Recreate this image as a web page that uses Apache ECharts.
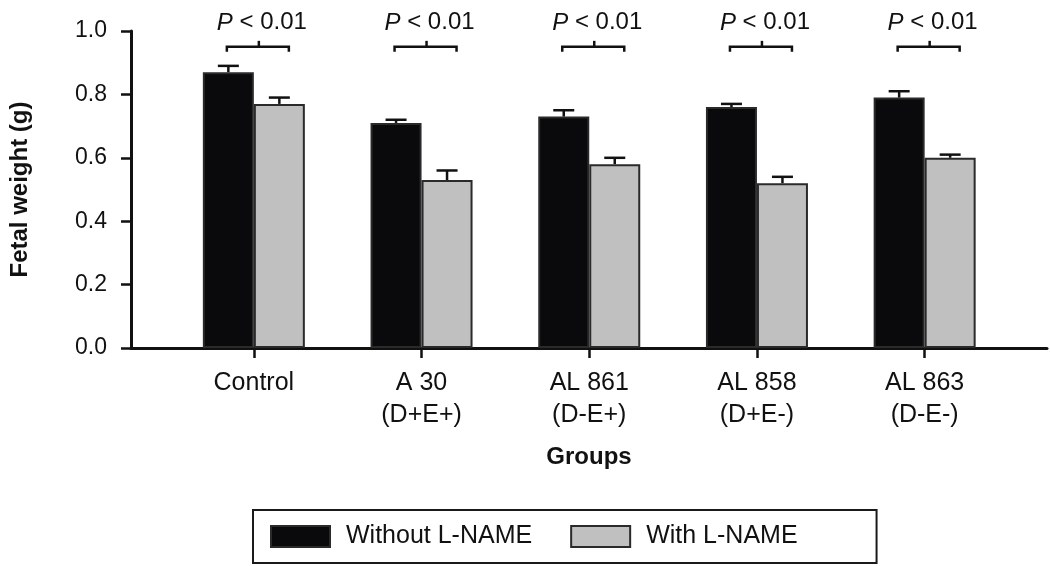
<!DOCTYPE html>
<html>
<head>
<meta charset="utf-8">
<script src="https://cdn.jsdelivr.net/npm/echarts@6/dist/echarts.min.js"></script>
<style>
html,body{margin:0;padding:0;background:#fff;}
#chart{width:1050px;height:566px;}
</style>
</head>
<body>
<div id="chart"></div>
<script>
// ---- data ----
const categories = ['Control', 'A 30\n(D+E+)', 'AL 861\n(D-E+)', 'AL 858\n(D+E-)', 'AL 863\n(D-E-)'];
const withoutLName = [0.87, 0.71, 0.73, 0.76, 0.79];
const withoutErr   = [0.02, 0.01, 0.02, 0.01, 0.02];
const withLName    = [0.77, 0.53, 0.58, 0.52, 0.60];
const withErr      = [0.02, 0.03, 0.02, 0.02, 0.01];
const pLabels      = ['P < 0.01', 'P < 0.01', 'P < 0.01', 'P < 0.01', 'P < 0.01'];
const yTicks       = [0, 0.2, 0.4, 0.6, 0.8, 1.0];
const bracketLevel = 0.95;

// ---- style ----
const FONT = '"Liberation Sans", Arial, Helvetica, sans-serif';
const BAR_W = 51;
const INK = '#111';

const chart = echarts.init(document.getElementById('chart'), null, {renderer: 'canvas'});

function errSeries(name, vals, errs, side) {
  return {
    type: 'custom', name: name + '_err', xAxisIndex: 1, yAxisIndex: 1, z: 5,
    silent: true,
    data: vals.map((v, i) => [i, v, errs[i]]),
    renderItem: function (params, api) {
      const i = api.value(0), v = api.value(1), e = api.value(2);
      const base = api.coord([i, v]);
      const top = api.coord([i, v + e]);
      const x = base[0] + side * BAR_W / 2;
      return {
        type: 'group',
        children: [
          {type: 'line', shape: {x1: x, y1: base[1], x2: x, y2: top[1]}, style: {stroke: INK, lineWidth: 2.5}},
          {type: 'line', shape: {x1: x - 10.5, y1: top[1], x2: x + 10.5, y2: top[1]}, style: {stroke: INK, lineWidth: 2.5}}
        ]
      };
    }
  };
}

const option = {
  animation: false,
  backgroundColor: '#fff',
  textStyle: {fontFamily: FONT},
  grid: [
    {left: 128, right: 3, top: 31, bottom: 218},
    {left: 170, right: 41.5, top: 31, bottom: 218}
  ],
  xAxis: [
    {
      type: 'value', gridIndex: 0, min: 0, max: 1,
      axisLine: {show: true, onZero: false, lineStyle: {color: INK, width: 3}},
      axisTick: {show: false}, axisLabel: {show: false}, splitLine: {show: false},
      name: 'Groups', nameLocation: 'middle', nameGap: 97,
      nameTextStyle: {fontFamily: FONT, fontSize: 24, fontWeight: 'bold', color: INK}
    },
    {
      type: 'category', gridIndex: 1, data: categories,
      axisLine: {show: false},
      axisTick: {show: true, alignWithLabel: true, length: 10, lineStyle: {color: INK, width: 2.5}},
      axisLabel: {fontFamily: FONT, fontSize: 25, color: INK, lineHeight: 32, margin: 19, interval: 0},
      splitLine: {show: false}
    }
  ],
  yAxis: [
    {
      type: 'value', gridIndex: 0, min: 0, max: 1, interval: 0.2,
      axisLine: {show: true, lineStyle: {color: INK, width: 3}},
      axisTick: {show: true, length: 10, lineStyle: {color: INK, width: 2.5}},
      axisLabel: {fontFamily: FONT, fontSize: 23, color: INK, margin: 24,
        formatter: v => yTicks.some(t => Math.abs(t - v) < 1e-9) ? v.toFixed(1) : ''},
      splitLine: {show: false},
      name: 'Fetal weight (g)', nameLocation: 'middle', nameGap: 99, nameRotate: 90,
      nameTextStyle: {fontFamily: FONT, fontSize: 24, fontWeight: 'bold', color: INK}
    },
    {type: 'value', gridIndex: 1, min: 0, max: 1, show: false}
  ],
  legend: {
    left: 253, top: 510,
    orient: 'horizontal',
    data: ['Without L-NAME', 'With L-NAME'],
    icon: 'rect', itemWidth: 59, itemHeight: 21, itemGap: 38,
    padding: [14, 79, 14, 17],
    borderColor: '#1a1a1a', borderWidth: 2,
    textStyle: {fontFamily: FONT, fontSize: 25, color: INK, padding: [0, 0, 0, 11]}
  },
  series: [
    {
      name: 'Without L-NAME', type: 'bar', xAxisIndex: 1, yAxisIndex: 1,
      data: withoutLName, barWidth: BAR_W, barGap: '0%',
      itemStyle: {color: '#0a0a0c', borderColor: '#2a2a2a', borderWidth: 2}
    },
    {
      name: 'With L-NAME', type: 'bar', xAxisIndex: 1, yAxisIndex: 1,
      data: withLName, barWidth: BAR_W, barGap: '0%',
      itemStyle: {color: '#c0c0c0', borderColor: '#2a2a2a', borderWidth: 2}
    },
    errSeries('Without L-NAME', withoutLName, withoutErr, -1),
    errSeries('With L-NAME', withLName, withErr, 1),
    {
      type: 'custom', name: 'significance', xAxisIndex: 1, yAxisIndex: 1, z: 6, silent: true,
      data: pLabels.map((p, i) => [i, bracketLevel]),
      renderItem: function (params, api) {
        const i = api.value(0);
        const c = api.coord([i, api.value(1)]);
        const x0 = c[0] - 27, x1 = c[0] + 35, xm = c[0] + 5, y = c[1];
        const txt = pLabels[params.dataIndex].replace(/^P/, '');
        return {
          type: 'group',
          children: [
            {type: 'polyline', shape: {points: [[x0, y + 5], [x0, y], [x1, y], [x1, y + 5]]},
              style: {stroke: INK, lineWidth: 2.5, fill: null}},
            {type: 'line', shape: {x1: xm, y1: y, x2: xm, y2: y - 6}, style: {stroke: INK, lineWidth: 2.5}},
            {type: 'text', x: c[0] + 8, y: y - 24,
              style: {text: '{i|P}' + txt, align: 'center', verticalAlign: 'middle',
                fontFamily: FONT, fontSize: 24, fill: INK,
                rich: {i: {fontFamily: FONT, fontSize: 24, fontStyle: 'italic', fill: INK}}}}
          ]
        };
      }
    }
  ]
};
chart.setOption(option);
</script>
</body>
</html>
